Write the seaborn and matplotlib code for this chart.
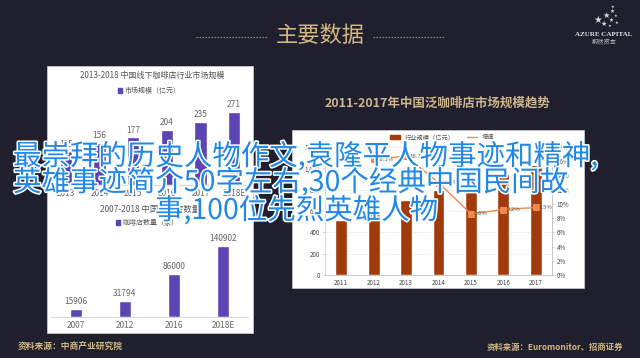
import numpy as np
import matplotlib.pyplot as plt
import matplotlib.patheffects as pe
from matplotlib.patches import Rectangle, Patch
from matplotlib.lines import Line2D
from matplotlib.ticker import FuncFormatter
import seaborn as sns

# ---- data ----
size_years = ["2013", "2014", "2015", "2016", "2017", "2018E"]
size_values = [125, 156, 177, 204, 235, 271]          # 市场规模（亿元）

store_years = ["2007", "2012", "2016", "2018E"]
store_counts = [15906, 31794, 86000, 140902]          # 咖啡店数量（家）

pan_years = ["2011", "2012", "2013", "2014", "2015", "2016", "2017"]
pan_market = [516, 600, 700, 795, 863, 943, 1030]     # 行业规模（亿元）
pan_growth = [np.nan, 16.3, 16.7, 13.0, 8.6, 9.2, 9.5]  # 增速 %

overlay_lines = [
    "最崇拜的历史人物作文,袁隆平人物事迹和精神,",
    "英雄事迹简介50字左右,30个经典中国民间故",
    "事,100位先烈英雄人物",
]

# ---- style ----
sns.set_style("white")
plt.rcParams["font.family"] = ["Noto Sans CJK SC", "DejaVu Sans"]

W, H = 640, 358
BG = "#1f1f2d"
GOLD = "#d2b883"
PURPLE = "#5b45b3"
BROWN = "#a23b0c"
ORANGE = "#ee8a4c"
GREY = "#666666"

fig = plt.figure(figsize=(W / 100, H / 100), dpi=100, facecolor=BG)


def box(x0, y0, x1, y1):
    return [x0 / W, 1 - y1 / H, (x1 - x0) / W, (y1 - y0) / H]


def panel(x0, y0, x1, y1):
    fig.patches.append(Rectangle((x0 / W, 1 - y1 / H), (x1 - x0) / W, (y1 - y0) / H,
                                 transform=fig.transFigure, facecolor="white",
                                 edgecolor="#d0d0d0", lw=0.5, zorder=-1))


def fx(x):
    return x / W


def fy(y):
    return 1 - y / H


# ---- header ----
fig.text(fx(320), fy(36), "主要数据", color=GOLD, fontsize=16, ha="center", va="center")
for a, b in [(196, 267), (373, 445)]:
    fig.lines.append(Line2D([fx(a), fx(b)], [fy(37), fy(37)], transform=fig.transFigure,
                            color="#8a8a8a", lw=0.8, linestyle=(0, (1.5, 1.2))))
for sx, sy, s in [(598, 20, 7), (606, 15, 6), (612, 11, 4), (604, 24, 5), (611, 20, 4),
                  (616, 16, 3), (617, 23, 3), (610, 26, 3), (613, 7, 3)]:
    fig.text(fx(sx), fy(sy), "★", color="#d8d8e0", fontsize=s, ha="center", va="center",
             family="DejaVu Sans")
fig.text(fx(604), fy(34), "AZURE CAPITAL", color="#e0e0e6", fontsize=5, ha="center",
         va="center", family="Liberation Serif", weight="bold")
fig.text(fx(604), fy(42), "蔚然资本", color="#bdbdc6", fontsize=4.5, ha="center", va="center")

# ---- left panel ----
panel(47, 66, 253, 333)

# top-left: market size
ax1 = fig.add_axes(box(49, 100, 251, 185))
ax1.set_facecolor("none")
sns.barplot(x=size_years, y=size_values, color=PURPLE, saturation=1, width=0.36, ax=ax1)
ax1.bar_label(ax1.containers[0], padding=2, fontsize=6, color=GREY)
ax1.set_ylim(0, 316)
fig.text(fx(152), fy(75), "2013-2018 中国线下咖啡店行业市场规模", fontsize=5.8,
         color="#555555", ha="center", va="center")
fig.legend(handles=[Patch(color=PURPLE, label="市场规模（亿元）")], loc="center",
           bbox_to_anchor=(fx(149), fy(91)), frameon=False, fontsize=5,
           handlelength=0.6, handleheight=0.6, handletextpad=0.4, labelcolor="#555555")

# bottom-left: store count
ax2 = fig.add_axes(box(51, 235, 248, 317))
ax2.set_facecolor("none")
sns.barplot(x=store_years, y=store_counts, color=PURPLE, saturation=1, width=0.24, ax=ax2)
ax2.bar_label(ax2.containers[0], padding=2, fontsize=6, color=GREY)
ax2.set_ylim(0, 162700)
fig.text(fx(150), fy(209), "2007-2018 中国咖啡店数量", fontsize=6,
         color="#555555", ha="center", va="center")
fig.legend(handles=[Patch(color=PURPLE, label="咖啡店数量（家）")], loc="center",
           bbox_to_anchor=(fx(147), fy(223)), frameon=False, fontsize=5,
           handlelength=0.6, handleheight=0.6, handletextpad=0.4, labelcolor="#555555")

for ax in (ax1, ax2):
    ax.set_xlabel("")
    ax.set_ylabel("")
    ax.set_yticks([])
    for side in ("top", "left", "right"):
        ax.spines[side].set_visible(False)
    ax.spines["bottom"].set_color("#d8d8d8")
    ax.tick_params(axis="x", length=0, labelsize=6, labelcolor=GREY, pad=3)

fig.text(fx(18), fy(347), "资料来源：中商产业研究院", color=GOLD, fontsize=6.3,
         weight="bold", ha="left", va="center")

# ---- right panel ----
fig.text(fx(438), fy(103), "2011-2017年中国泛咖啡店市场规模趋势", color="#cdb68d",
         fontsize=9, weight="bold", ha="center", va="center")
panel(292, 130, 584, 288)

ax3 = fig.add_axes(box(325, 147, 552, 275))
ax3.set_facecolor("none")
sns.barplot(x=pan_years, y=pan_market, color=BROWN, saturation=1, width=0.37, ax=ax3)
ax3.set_ylim(0, 1200)
ax3.set_yticks(range(0, 1201, 200))
ax3.yaxis.set_major_formatter(FuncFormatter(lambda v, p: f"{int(v):,}"))
ax3.yaxis.grid(True, linestyle="--", color="#e4e4e4", lw=0.5)
ax3.set_axisbelow(True)
ax3.set_xlabel("")
ax3.set_ylabel("")

ax4 = ax3.twinx()
pos = np.arange(len(pan_years))
sns.lineplot(x=pos, y=pan_growth, color=ORANGE, marker="s", markersize=4,
             markeredgecolor=ORANGE, lw=1, ax=ax4)
for i, g in zip(pos, pan_growth):
    if not np.isnan(g):
        ax4.text(i + 0.1, g, f"{g}%", fontsize=4.3, color="#555555", va="center", ha="left")
ax4.set_ylim(0, 18)
ax4.set_yticks(range(0, 19, 2))
ax4.yaxis.set_major_formatter(FuncFormatter(lambda v, p: f"{int(v)}%"))
ax4.set_ylabel("")
ax4.set_xlim(-0.5, len(pan_years) - 0.5)

for ax in (ax3, ax4):
    ax.spines["top"].set_visible(False)
    ax.tick_params(labelsize=4.5, labelcolor="#444444", length=1.5, width=0.4,
                   color="#aaaaaa", pad=2)
ax3.tick_params(axis="x", length=0, pad=3)
ax3.spines["left"].set_color("#b9cbe3")
ax3.spines["bottom"].set_color("#b0b0b0")
ax3.spines["right"].set_visible(False)
ax4.spines["left"].set_visible(False)
ax4.spines["bottom"].set_visible(False)
ax4.spines["right"].set_color("#b0b0b0")
for ax in (ax3, ax4):
    for s in ax.spines.values():
        s.set_linewidth(0.5)

fig.legend(handles=[Patch(color=BROWN, label="行业规模（亿元）"),
                    Line2D([], [], color=ORANGE, lw=1, label="增速")],
           loc="center", ncol=2, bbox_to_anchor=(fx(442), fy(137)), frameon=False,
           fontsize=4.5, handlelength=1.6, handleheight=0.5, columnspacing=2,
           labelcolor="#555555")

fig.text(fx(623), fy(347), "资料来源：Euromonitor、招商证券", color=GOLD, fontsize=6,
         weight="bold", ha="right", va="center")

# ---- overlay headline ----
stroke = [pe.withStroke(linewidth=2.2, foreground="white")]
for (tx, ty, ha), line in zip([(13, 157, "left"), (13, 183, "left"), (155, 211, "left")],
                              overlay_lines):
    fig.text(fx(tx), fy(ty), line, color="#2188e8", fontsize=20.5, ha=ha, va="center",
             path_effects=stroke, zorder=10)

fig.savefig("out.png", dpi=100, facecolor=BG)
